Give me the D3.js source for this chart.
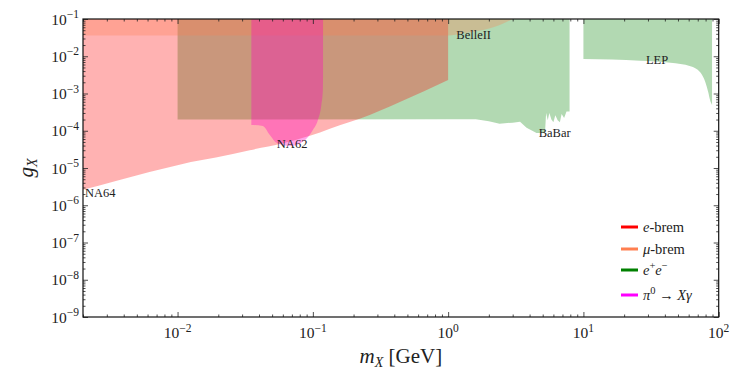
<!DOCTYPE html>
<html>
<head>
<meta charset="utf-8">
<script src="https://cdn.jsdelivr.net/npm/d3@7"></script>
<style>
  body { margin: 0; background: #fff; }
  svg text { font-family: "Liberation Serif", "DejaVu Serif", serif; fill: #222; }
</style>
</head>
<body>
<div id="chart"></div>
<script>
// all regions are [m_X (GeV), g_X] pairs

// e-brem (NA64): lower edge, left to right
var na64Edge = [[0.002, 2.6e-6], [0.0035, 4.5e-6], [0.0062, 7.8e-6], [0.0109, 1.29e-5],
  [0.0192, 1.9e-5], [0.0342, 3.0e-5], [0.060, 4.6e-5], [0.113, 9.0e-5],
  [0.158, 1.4e-4], [0.222, 2.1e-4], [0.44, 5.9e-4], [1.0, 2.3e-3]];

// mu-brem (BelleII): lower edge, left to right
var belleEdge = [[0.002, 0.036], [1.0, 0.036], [1.29, 0.0413], [2.04, 0.0563],
  [2.41, 0.069], [2.95, 0.097], [3.0, 0.1]];

// e+e- (BaBar): lower edge, left to right
var babarEdge = [[0.01, 2.0e-4], [1.0, 2.05e-4], [1.6, 2.05e-4], [2.0, 1.8e-4], [2.4, 1.55e-4],
  [3.0, 1.65e-4], [3.4, 1.75e-4], [3.8, 1.2e-4], [4.5, 8.7e-5], [5.2, 8.7e-5],
  [5.3, 3.0e-4], [5.45, 1.9e-4], [5.6, 3.0e-4], [5.8, 2.0e-4], [6.0, 1.7e-4],
  [6.2, 2.6e-4], [6.45, 1.9e-4], [6.7, 1.7e-4], [6.9, 2.8e-4], [7.2, 2.2e-4],
  [7.5, 3.3e-4], [7.9, 3.3e-4]];

// e+e- (LEP): lower edge, left to right
var lepEdge = [[10, 8.4e-3], [26.3, 7.6e-3], [44, 6.7e-3], [61.8, 5.4e-3], [73, 3.7e-3],
  [79.7, 2.0e-3], [83.6, 1.1e-3], [86.5, 6.5e-4], [89.3, 4.9e-4]];

// pi0 -> X gamma (NA62): lower edge, left to right
var na62Edge = [[0.0351, 1.43e-4], [0.0427, 1.34e-4], [0.0481, 7.7e-5], [0.0542, 4.7e-5],
  [0.0676, 3.9e-5], [0.0873, 5.6e-5], [0.1, 1.04e-4], [0.109, 1.94e-4],
  [0.1156, 4.9e-4], [0.1186, 1.23e-3], [0.119, 3e-3]];

var gTop = 0.1;

var xMajor = [1e-2, 1e-1, 1, 10, 100];
var xMajorExp = ["\u22122", "\u22121", "0", "1", "2"];
var yMajor = [1e-9, 1e-8, 1e-7, 1e-6, 1e-5, 1e-4, 1e-3, 1e-2, 1e-1];
var yMajorExp = ["\u22129", "\u22128", "\u22127", "\u22126", "\u22125", "\u22124", "\u22123", "\u22122", "\u22121"];

var labels = [
  {text: "NA64", m: 0.00207, g: 1.66e-6},
  {text: "NA62", m: 0.0542, g: 3.44e-5},
  {text: "BelleII", m: 1.15, g: 0.029},
  {text: "BaBar", m: 4.67, g: 6.9e-5},
  {text: "LEP", m: 29, g: 6.2e-3}
];

var legendItems = [
  {color: "#ff0000", parts: [["e", "i"], ["-brem", ""]]},
  {color: "#ff7f50", parts: [["\u03bc", "i"], ["-brem", ""]]},
  {color: "#008000", parts: [["e", "i"], ["+", "sup"], ["e", "i"], ["\u2212", "sup"]]},
  {color: "#ff00ff", parts: [["\u03c0", "i"], ["0", "sup"], [" \u2192 ", ""], ["X\u03b3", "i"]]}
];

const width = 756, height = 378;
const margin = {top: 19, right: 37.3, bottom: 61, left: 83};

var svg = d3.select("#chart").append("svg")
  .attr("width", width)
  .attr("height", height);

const x = d3.scaleLog().domain([0.002, 100]).range([margin.left, width - margin.right]);
const y = d3.scaleLog().domain([1e-9, 1e-1]).range([height - margin.bottom, margin.top]);

svg.append("clipPath").attr("id", "plot-clip")
  .append("rect")
  .attr("x", x.range()[0]).attr("y", y.range()[1])
  .attr("width", x.range()[1] - x.range()[0])
  .attr("height", y.range()[0] - y.range()[1]);

// region = lower edge + straight top at g = 0.1
function region(edge, curve) {
  var first = edge[0], last = edge[edge.length - 1];
  var line = d3.line().x(d => x(d[0])).y(d => y(d[1])).curve(curve);
  return line(edge) + `L${x(last[0])},${y(gTop)}L${x(first[0])},${y(gTop)}Z`;
}

var areas = svg.append("g").attr("clip-path", "url(#plot-clip)");

// drawing order matters for the blended colours
var fills = [
  {edge: babarEdge, color: "#008000", op: 0.3, curve: d3.curveLinear},
  {edge: lepEdge, color: "#008000", op: 0.3, curve: d3.curveMonotoneX},
  {edge: na64Edge, color: "#ff0000", op: 0.3, curve: d3.curveMonotoneX},
  {edge: belleEdge, color: "#ff7f50", op: 0.3, curve: d3.curveMonotoneX},
  {edge: na62Edge, color: "#ff00c0", op: 0.35, curve: d3.curveMonotoneX}
];

areas.selectAll("path")
  .data(fills)
  .enter()
  .append("path")
  .attr("d", d => region(d.edge, d.curve))
  .attr("fill", d => d.color)
  .attr("fill-opacity", d => d.op)
  .attr("stroke", "none");

// experiment names
svg.append("g").selectAll("text")
  .data(labels)
  .enter()
  .append("text")
  .attr("x", d => x(d.m))
  .attr("y", d => y(d.g))
  .attr("font-size", 12.5)
  .text(d => d.text);

// minor tick values 2..9 per decade
function minors(scale) {
  var dom = scale.domain(), out = [];
  for (var e = Math.floor(Math.log10(dom[0])); e < Math.ceil(Math.log10(dom[1])); e++) {
    for (var k = 2; k <= 9; k++) {
      var v = k * Math.pow(10, e);
      if (v >= dom[0] && v <= dom[1]) out.push(v);
    }
  }
  return out;
}

var x0 = x.range()[0], x1 = x.range()[1], y0 = y.range()[0], y1 = y.range()[1];

function drawAxis(axisFn, scale, transform, vals, size) {
  svg.append("g")
    .attr("transform", transform)
    .call(axisFn(scale).tickValues(vals).tickSize(size).tickFormat(""))
    .call(g => g.select(".domain").remove())
    .call(g => g.selectAll("line").attr("stroke", "#222").attr("stroke-width", 0.8));
}

// inward ticks on all four sides
drawAxis(d3.axisBottom, x, `translate(0,${y0})`, xMajor, -5);
drawAxis(d3.axisBottom, x, `translate(0,${y0})`, minors(x), -2.5);
drawAxis(d3.axisTop, x, `translate(0,${y1})`, xMajor, -5);
drawAxis(d3.axisTop, x, `translate(0,${y1})`, minors(x), -2.5);
drawAxis(d3.axisLeft, y, `translate(${x0},0)`, yMajor, -5);
drawAxis(d3.axisLeft, y, `translate(${x0},0)`, minors(y), -2.5);
drawAxis(d3.axisRight, y, `translate(${x1},0)`, yMajor, -5);
drawAxis(d3.axisRight, y, `translate(${x1},0)`, minors(y), -2.5);

// frame
svg.append("rect")
  .attr("x", x0).attr("y", y1)
  .attr("width", x1 - x0).attr("height", y0 - y1)
  .attr("fill", "none")
  .attr("stroke", "#111")
  .attr("stroke-width", 1.2);

// tick labels as 10^n
var xt = svg.append("g").selectAll("text")
  .data(xMajor)
  .enter()
  .append("text")
  .attr("x", d => x(d))
  .attr("y", y0 + 21)
  .attr("text-anchor", "middle")
  .attr("font-size", 15.5);
xt.append("tspan").text("10");
xt.append("tspan").attr("dy", -6.5).attr("font-size", 11.5).text((d, i) => xMajorExp[i]);

var yt = svg.append("g").selectAll("text")
  .data(yMajor)
  .enter()
  .append("text")
  .attr("x", x0 - 4)
  .attr("y", d => y(d) + 5.5)
  .attr("text-anchor", "end")
  .attr("font-size", 15.5);
yt.append("tspan").text("10");
yt.append("tspan").attr("dy", -6.5).attr("font-size", 11.5).text((d, i) => yMajorExp[i]);

// axis titles
var xTitle = svg.append("text")
  .attr("x", (x0 + x1) / 2)
  .attr("y", 363)
  .attr("text-anchor", "middle")
  .attr("font-size", 21);
xTitle.append("tspan").attr("font-style", "italic").text("m");
xTitle.append("tspan").attr("font-style", "italic").attr("font-size", 14).attr("dy", 4).text("X");
xTitle.append("tspan").attr("dy", -4).text(" [GeV]");

var yTitle = svg.append("text")
  .attr("transform", `translate(33,${(y0 + y1) / 2}) rotate(-90)`)
  .attr("text-anchor", "middle")
  .attr("font-size", 21);
yTitle.append("tspan").attr("font-style", "italic").text("g");
yTitle.append("tspan").attr("font-style", "italic").attr("font-size", 14).attr("dy", 4).text("X");

// legend
var legendY = [227, 249, 270, 295];
var legend = svg.append("g").selectAll("g")
  .data(legendItems)
  .enter()
  .append("g")
  .attr("transform", (d, i) => `translate(621,${legendY[i]})`);

legend.append("line")
  .attr("x1", 0).attr("x2", 17)
  .attr("stroke", d => d.color)
  .attr("stroke-width", 3);

legend.each(function(d) {
  var t = d3.select(this).append("text")
    .attr("x", 22)
    .attr("y", 5)
    .attr("font-size", 14.5);
  var lastSup = false;
  d.parts.forEach(function(p) {
    var s = t.append("tspan").text(p[0]);
    if (p[1] === "i") s.attr("font-style", "italic");
    if (p[1] === "sup") {
      s.attr("font-size", 10.5).attr("dy", lastSup ? 0 : -6);
      lastSup = true;
    } else if (lastSup) {
      s.attr("dy", 6);
      lastSup = false;
    }
  });
});
</script>
</body>
</html>
